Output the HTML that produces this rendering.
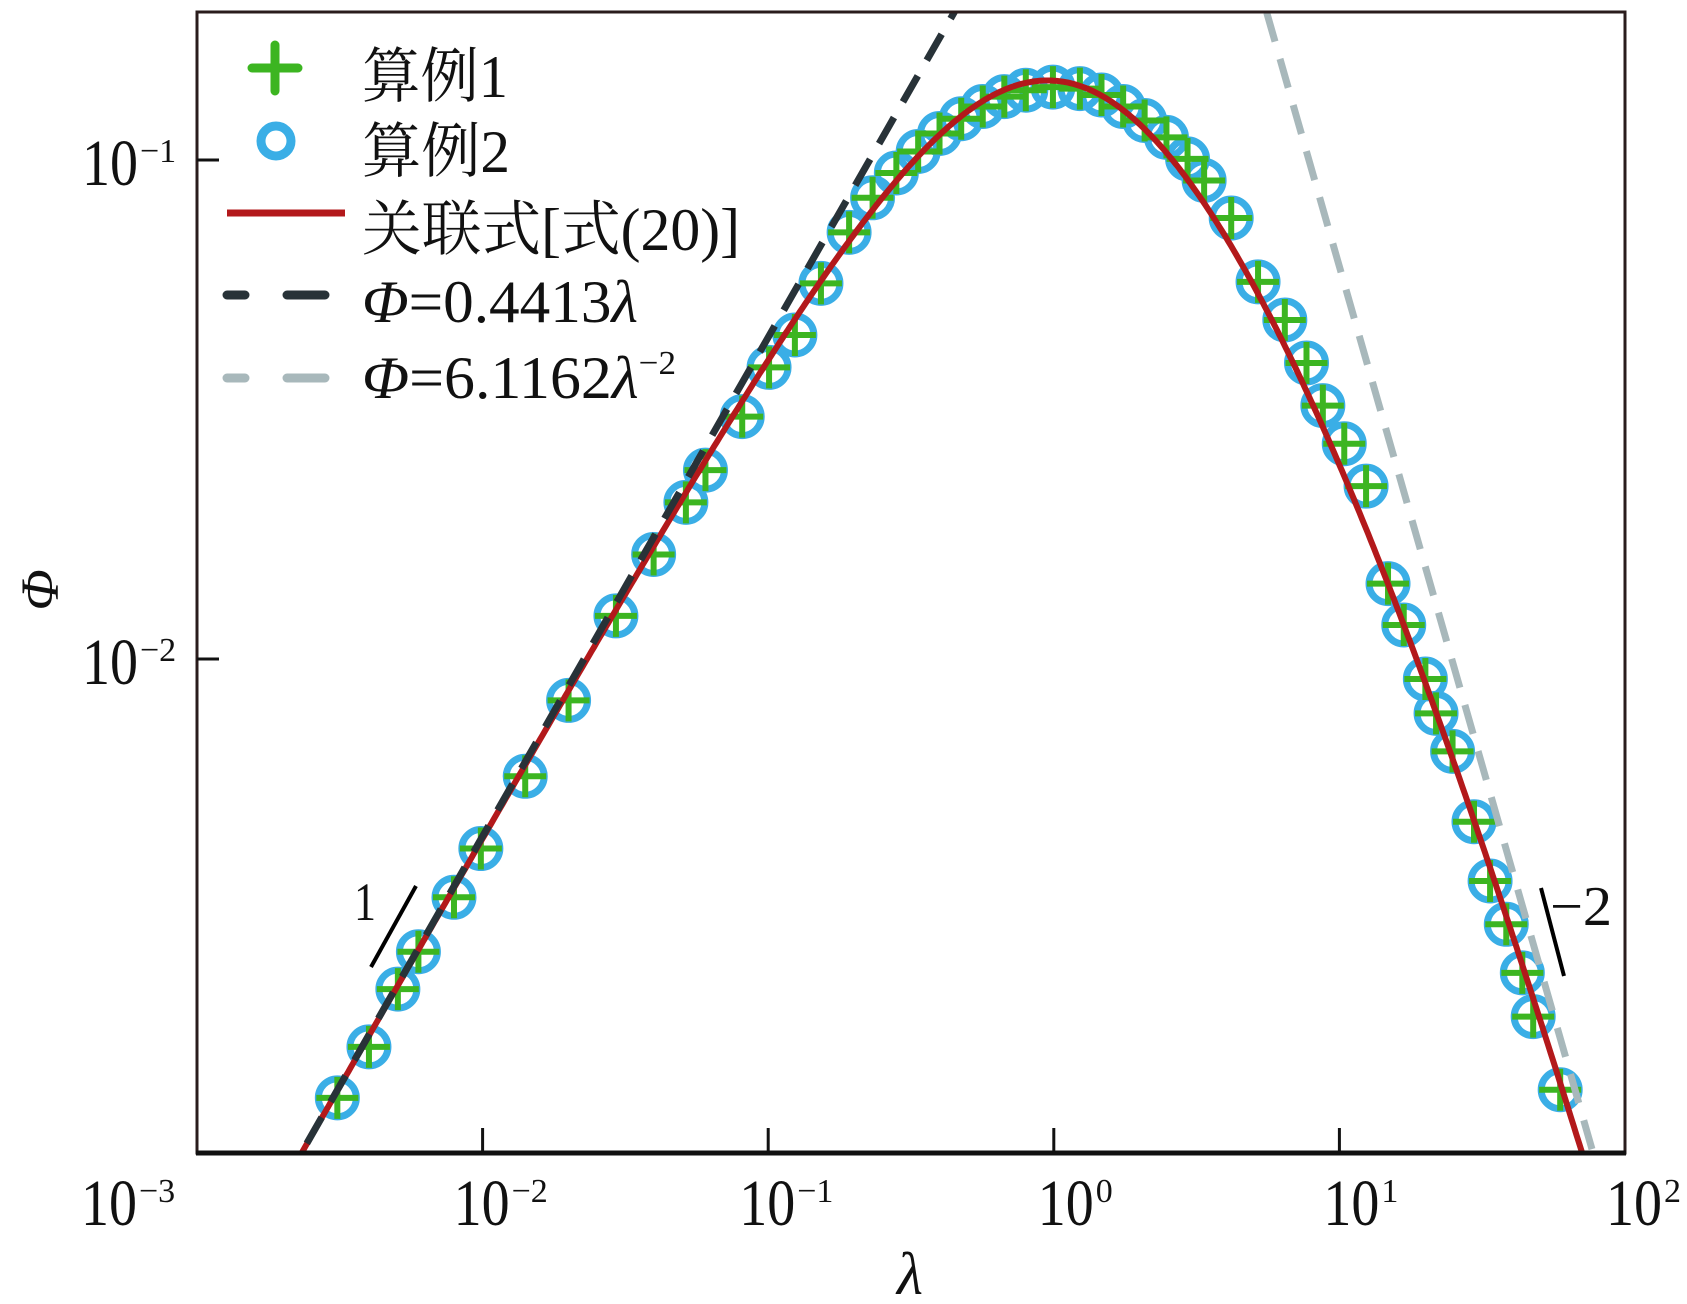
<!DOCTYPE html>
<html><head><meta charset="utf-8">
<style>
html,body{margin:0;padding:0;background:#fff;}
svg{display:block;}
text{font-family:"Liberation Serif","Noto Serif CJK SC",serif;fill:#111;}
</style></head>
<body>
<svg id="chart" width="1687" height="1304" viewBox="0 0 1687 1304" xmlns="http://www.w3.org/2000/svg">
<g id="marks"></g>
<g id="axes"></g>
<g id="legend"></g>
</svg>
<script>
// data
const lambda = [0.0031,0.0040,0.00505,0.00596,0.00794,0.00986,0.0141,0.0200,0.0293,0.0397,0.0515,0.0603,0.0811,0.1007,0.124,0.153,0.192,0.232,0.281,0.335,0.398,0.474,0.564,0.671,0.798,0.993,1.234,1.469,1.749,2.08,2.48,2.94,3.36,4.18,5.19,6.44,7.67,8.75,10.4,12.4,14.8,16.8,20.0,21.8,24.9,29.6,33.7,38.4,43.7,47.7,59.3];
const phi = [0.00132,0.00167,0.00218,0.00259,0.00333,0.00417,0.00582,0.00826,0.0122,0.0162,0.0206,0.0239,0.0306,0.0384,0.0446,0.0566,0.0716,0.0840,0.0942,0.1040,0.113,0.121,0.128,0.134,0.138,0.140,0.139,0.135,0.128,0.120,0.1110,0.1005,0.0910,0.0765,0.0570,0.0478,0.0392,0.0322,0.0270,0.0222,0.01416,0.0117,0.00912,0.00778,0.00653,0.00472,0.00359,0.00294,0.00235,0.00192,0.00137];
const xTickExp = [-3,-2,-1,0,1,2];
const yTickExp = [-2,-1];
const corrA = 0.4413, corrB = 1.02, corrC = 0.968, corrD = 0.07216;
const asymLowCoef = 0.4413, asymHighCoef = 6.1162;

const NS = "http://www.w3.org/2000/svg";
const L = 197, R = 1625, T = 12, B = 1153;
const xMinE = -3, xMaxE = 2;
const yDec = 499, y1 = 160; // pixel of 1e-1
function X(v){ return L + (Math.log10(v) - xMinE) / (xMaxE - xMinE) * (R - L); }
function Y(v){ return y1 - (Math.log10(v) + 1) * yDec; }
function mk(tag, attrs, parent){ const e = document.createElementNS(NS, tag); for (const k in attrs) e.setAttribute(k, attrs[k]); parent.appendChild(e); return e; }

const marks = document.getElementById('marks');
const axes = document.getElementById('axes');
const legend = document.getElementById('legend');

const defs = mk('defs', {}, marks);
const cp = mk('clipPath', {id:'clip'}, defs);
mk('rect', {x:L, y:T, width:R-L, height:B-T}, cp);
const plot = mk('g', {'clip-path':'url(#clip)'}, marks);

// circles (算例2)
const gC = mk('g', {}, plot);


lambda.forEach((l, i) => {
  const c = mk('circle', {cx:X(l), cy:Y(phi[i]), r:19, fill:'none', stroke:'#3aaee6', 'stroke-width':7}, gC);
  
  
});
// plus (算例1)
const gP = mk('g', {}, plot);


lambda.forEach((l, i) => {
  const x = X(l), y = Y(phi[i]);
  const p = mk('path', {d:`M${x-21},${y}H${x+21}M${x},${y-21}V${y+21}`, stroke:'#3cb521', 'stroke-width':6, fill:'none'}, gP);
  
  
});
// correlation curve
function corr(l){ return corrA * l / (1 + corrB*l + corrC*l*l + corrD*l*l*l); }
let d = '';
for (let e = -2.8; e <= 2.0; e += 0.01) { const l = Math.pow(10, e); d += (d ? 'L' : 'M') + X(l).toFixed(1) + ',' + Y(corr(l)).toFixed(1); }
const red = mk('path', {d, stroke:'#b3191b', 'stroke-width':6, fill:'none'}, plot);


// asymptotes
const lo1 = 0.002, lo2 = 0.6;
const blk = mk('path', {d:`M${X(lo1)},${Y(asymLowCoef*lo1)}L${X(lo2)},${Y(asymLowCoef*lo2)}`, stroke:'#283238', 'stroke-width':7, 'stroke-dasharray':'30 18', fill:'none'}, plot);


const hi1 = 4.5, hi2 = 90;
const gry = mk('path', {d:`M${X(hi1)},${Y(asymHighCoef/hi1/hi1)}L${X(hi2)},${Y(asymHighCoef/hi2/hi2)}`, stroke:'#a8b8bb', 'stroke-width':7, 'stroke-dasharray':'30 18', fill:'none'}, plot);



// slope annotations
const s1 = mk('line', {x1:371, y1:967, x2:416, y2:886, stroke:'#000', 'stroke-width':4}, marks);


const t1 = mk('text', {x:354, y:920, 'font-size':54, textLength:22, lengthAdjust:'spacingAndGlyphs'}, marks); t1.textContent = '1';


const s2 = mk('line', {x1:1541, y1:888, x2:1564, y2:976, stroke:'#000', 'stroke-width':4}, marks);


const t2 = mk('text', {x:1550, y:925, 'font-size':56, textLength:62, lengthAdjust:'spacingAndGlyphs'}, marks); t2.textContent = '\u22122';



// frame
const fr = mk('rect', {x:L, y:T, width:R-L, height:B-T, fill:'none', stroke:'#2a1c1c', 'stroke-width':3}, axes);


mk('line', {x1:L-1, y1:B, x2:R+1, y2:B, stroke:'#111', 'stroke-width':5}, axes);

function powLabel(x0, base, exp, name){
  const t = mk('text', {x:x0, y:base, 'font-size':66, textLength:56, lengthAdjust:'spacingAndGlyphs'}, axes);
  t.textContent = '10';
  
  
  const s = mk('text', {x:x0+58, y:base-23, 'font-size':34}, axes);
  s.textContent = exp < 0 ? '\u2212' + (-exp) : String(exp);
  
  
}
// x ticks
xTickExp.forEach(e => {
  const x = X(Math.pow(10, e));
  if (e > xMinE && e < xMaxE) { const tk = mk('line', {x1:x, y1:B, x2:x, y2:B-25, stroke:'#111', 'stroke-width':3}, axes);
    
     }
  const start = e === xMinE ? 81 : (e === xMaxE ? x - 19 : (e < 0 ? x - 29 : x - 16));
  powLabel(start, 1225, e, 'x-tick-label');
});
// y ticks
yTickExp.forEach(e => {
  const y = Y(Math.pow(10, e));
  const tk = mk('line', {x1:L, y1:y, x2:L+22, y2:y, stroke:'#111', 'stroke-width':3}, axes);
  
  
  powLabel(82, y + 25, e, 'y-tick-label');
});
const xl = mk('text', {x:910, y:1294, 'font-size':60, 'font-style':'italic', 'text-anchor':'middle'}, axes);
xl.textContent = 'λ';


const yl = mk('text', {x:0, y:0, 'font-size':54, 'font-style':'italic', 'text-anchor':'middle', transform:'translate(58,590) rotate(-90)'}, axes);
yl.textContent = 'Φ';



// legend
function entry(name, y, w, draw, html){
  const g = mk('g', {}, legend);
  
  
  draw(g);
  const t = mk('text', {x:362, y:y, 'font-size':60, textLength:w, lengthAdjust:'spacingAndGlyphs'}, g);
  t.innerHTML = html;
}
entry('legend-entry-case1', 97, 146, g => mk('path', {d:'M252,68H298M275,45V91', stroke:'#3cb521', 'stroke-width':9, 'stroke-linecap':'round'}, g), '算例1');
entry('legend-entry-case2', 172, 148, g => mk('circle', {cx:276, cy:141, r:15, fill:'none', stroke:'#3aaee6', 'stroke-width':9}, g), '算例2');
entry('legend-entry-correlation', 250, 378, g => mk('line', {x1:227, y1:213, x2:345, y2:213, stroke:'#b3191b', 'stroke-width':7}, g), '关联式[式(20)]');
entry('legend-entry-asym-low', 322, 276, g => mk('path', {d:'M227,295H245M287,295H325', stroke:'#283238', 'stroke-width':9, 'stroke-linecap':'round'}, g), '<tspan font-style="italic">Φ</tspan>=0.4413<tspan font-style="italic">λ</tspan>');
entry('legend-entry-asym-high', 398, 314, g => mk('path', {d:'M227,378H245M287,378H325', stroke:'#a8b8bb', 'stroke-width':9, 'stroke-linecap':'round'}, g), '<tspan font-style="italic">Φ</tspan>=6.1162<tspan font-style="italic">λ</tspan><tspan dy="-24" font-size="34">\u22122</tspan>');
</script>
</body></html>
